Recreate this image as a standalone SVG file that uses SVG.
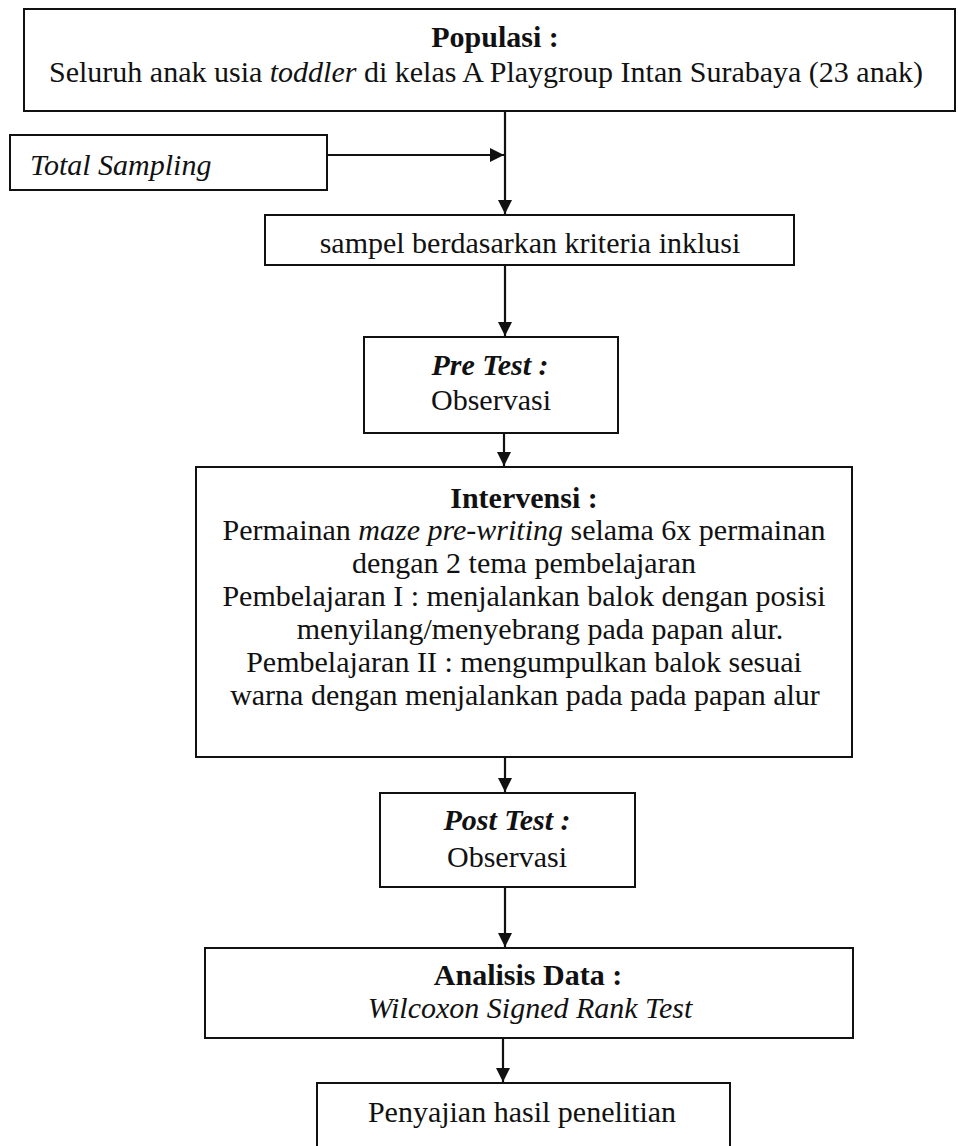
<svg xmlns="http://www.w3.org/2000/svg" width="958" height="1146" viewBox="0 0 958 1146">
<style>
.box{fill:#fff;stroke:#111;stroke-width:2}
.t{font-family:"Liberation Serif","Times New Roman",serif;font-size:30px;fill:#111;text-anchor:middle}
.b{font-weight:bold}
.i{font-style:italic}
.ln{stroke:#111;stroke-width:2.2;fill:none}
</style>
<defs>
<marker id="ah" markerUnits="userSpaceOnUse" markerWidth="14" markerHeight="14" refX="14" refY="7" orient="auto">
<path d="M0,0 L14,7 L0,14 z" fill="#111"/>
</marker>
</defs>
<rect width="958" height="1146" fill="#fff"/>
<g id="connectors">
<line class="ln" x1="505" y1="111" x2="505" y2="214" marker-end="url(#ah)"/>
<line class="ln" x1="327" y1="155" x2="504" y2="155" marker-end="url(#ah)"/>
<line class="ln" x1="505" y1="265" x2="505" y2="336" marker-end="url(#ah)"/>
<line class="ln" x1="504" y1="433" x2="504" y2="466" marker-end="url(#ah)"/>
<line class="ln" x1="505" y1="757" x2="505" y2="792" marker-end="url(#ah)"/>
<line class="ln" x1="505" y1="887" x2="505" y2="947" marker-end="url(#ah)"/>
<line class="ln" x1="503" y1="1038" x2="503" y2="1082" marker-end="url(#ah)"/>
</g>
<g id="populasi">
<rect class="box" x="24" y="9" width="931" height="102"/>
<text class="t b" x="495" y="47">Populasi :</text>
<text class="t" x="486" y="82">Seluruh anak usia <tspan class="i">toddler</tspan> di kelas A Playgroup Intan Surabaya (23 anak)</text>
</g>
<g id="total-sampling">
<rect class="box" x="10" y="135" width="317" height="55"/>
<text class="t i" x="30" y="175" style="text-anchor:start">Total Sampling</text>
</g>
<g id="sampel">
<rect class="box" x="265" y="215" width="529" height="50"/>
<text class="t" x="530" y="253">sampel berdasarkan kriteria inklusi</text>
</g>
<g id="pretest">
<rect class="box" x="364" y="337" width="254" height="96"/>
<text class="t b i" x="490" y="375">Pre Test :</text>
<text class="t" x="491" y="410">Observasi</text>
</g>
<g id="intervensi">
<rect class="box" x="196" y="467" width="656" height="290"/>
<text class="t b" x="524" y="508">Intervensi :</text>
<text class="t" x="524" y="540">Permainan <tspan class="i">maze pre-writing</tspan> selama 6x permainan</text>
<text class="t" x="524" y="573">dengan 2 tema pembelajaran</text>
<text class="t" x="524" y="606">Pembelajaran I : menjalankan balok dengan posisi</text>
<text class="t" x="540" y="639">menyilang/menyebrang pada papan alur.</text>
<text class="t" x="524" y="672">Pembelajaran II : mengumpulkan balok sesuai</text>
<text class="t" x="525" y="705">warna dengan menjalankan pada pada papan alur</text>
</g>
<g id="posttest">
<rect class="box" x="380" y="793" width="255" height="94"/>
<text class="t b i" x="507" y="830">Post Test :</text>
<text class="t" x="507" y="867">Observasi</text>
</g>
<g id="analisis">
<rect class="box" x="205" y="948" width="648" height="90"/>
<text class="t b" x="528" y="985">Analisis Data :</text>
<text class="t i" x="530" y="1018">Wilcoxon Signed Rank Test</text>
</g>
<g id="penyajian">
<rect class="box" x="317" y="1083" width="413" height="80"/>
<text class="t" x="522" y="1122">Penyajian hasil penelitian</text>
</g>
</svg>
